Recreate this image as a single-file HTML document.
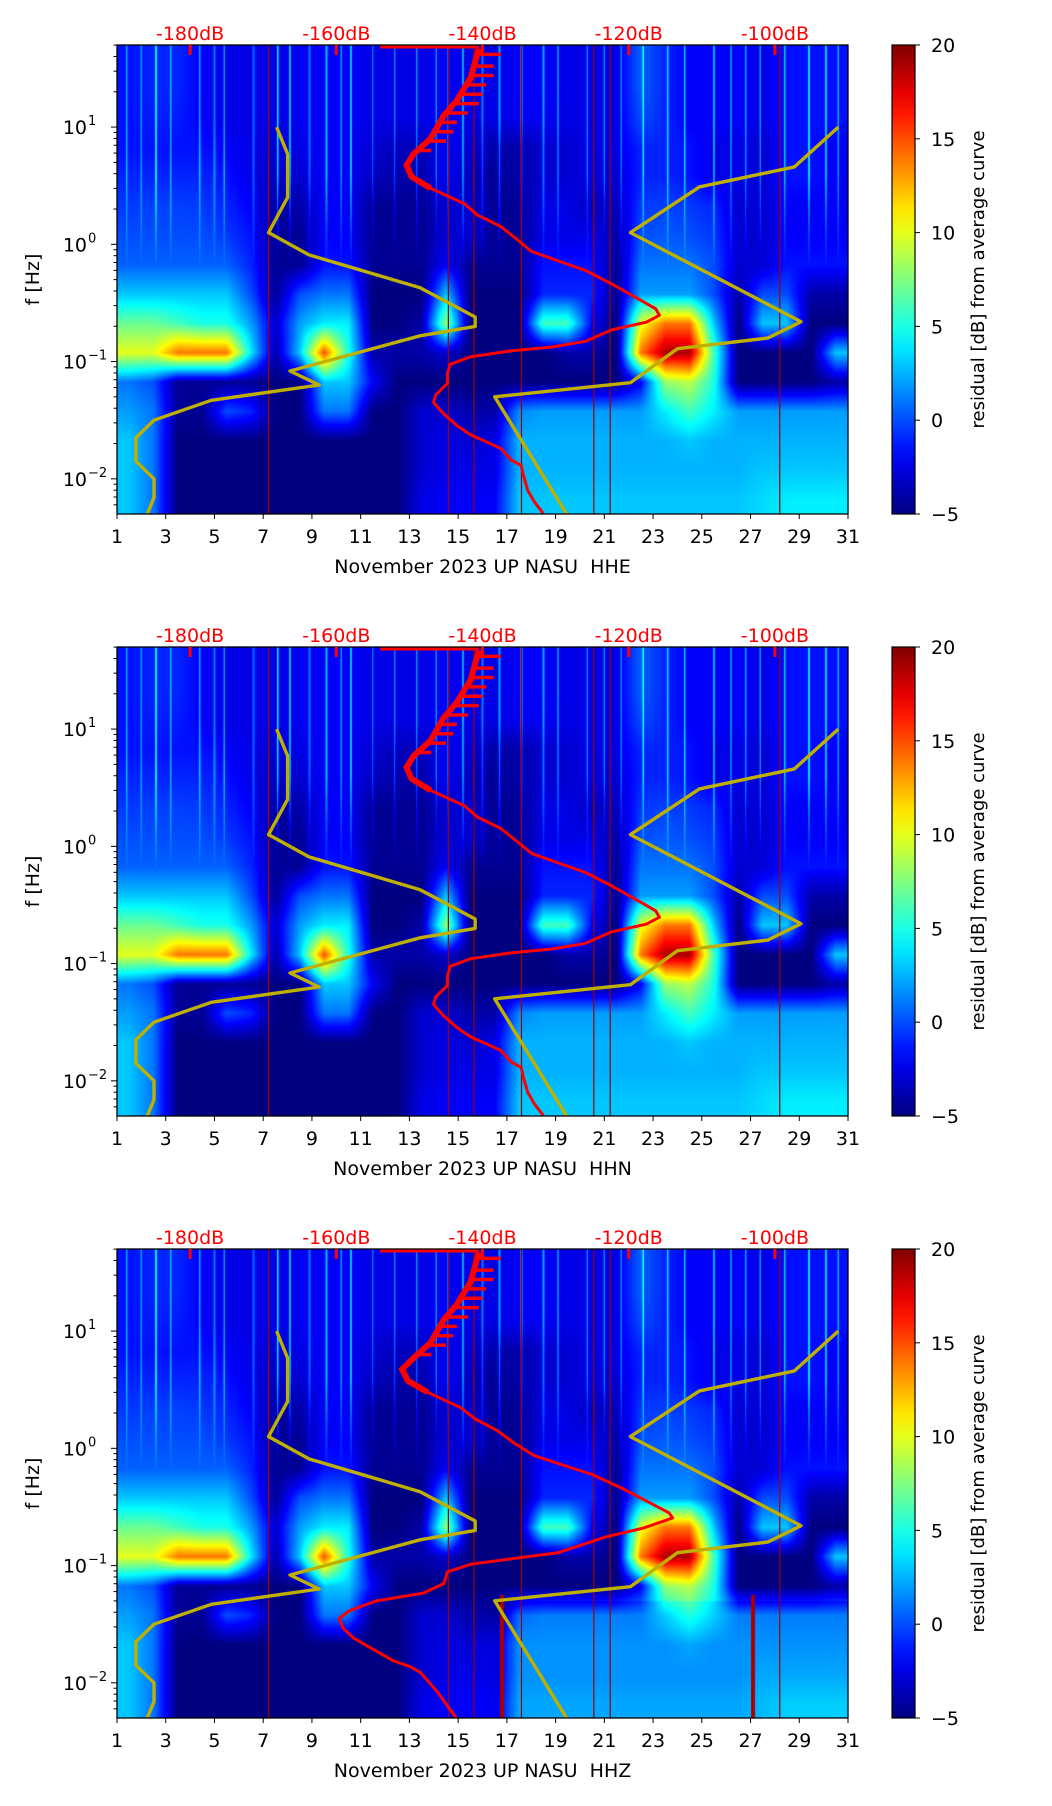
<!DOCTYPE html>
<html><head><meta charset="utf-8">
<style>
html,body{margin:0;padding:0;background:#fff;}
#root{position:relative;width:1052px;height:1806px;overflow:hidden;background:#fff;}
canvas{position:absolute;}
svg{position:absolute;left:0;top:0;}
text{font-family:"DejaVu Sans","Liberation Sans",sans-serif;}
</style></head>
<body>
<div id="root">
<svg id="svg" width="1052" height="1806"></svg>
</div>
<script>
// ---- data ----
const panelNames = ["HHE","HHN","HHZ"];
const xTicks = [1,3,5,7,9,11,13,15,17,19,21,23,25,27,29,31];
const yTickExp = [1,0,-1,-2];
const dbTicks = [-180,-160,-140,-120,-100];
const cbTicks = [20,15,10,5,0,-5];
// residual grid: 16 frequency bands (log10 f from 1.7 down to -2.3, 0.25 step) x 30 days
const gridRows = [
[-1.5,-1,-1,-2,-2.5,-2.5,-2.5,-2.2,-2,-2,-2.5,-2.5,-2.5,-2,-2.5,-2.5,-2,-2,-2.5,-2.5,-2.5,0.5,-1,-2,-2,-2,-2.5,-1.5,-1.5,-1.5],
[-1.5,-1,-1,-2,-2.5,-2.5,-2.5,-2.2,-2,-2,-2.5,-2.5,-2.5,-2,-2.5,-2.5,-2,-2,-2.5,-2.5,-2.5,0.5,-1,-2,-2,-2,-2.5,-1.5,-1.5,-1.5],
[-1.5,-1.2,-1.2,-2,-2.5,-2.5,-2.5,-2.2,-2,-2,-2.5,-2.5,-2.5,-2,-2.5,-2.5,-2.2,-2.2,-2.5,-2.5,-2.5,0,-1,-2,-2,-2,-2.5,-1.5,-1.5,-1.5],
[-1.5,-1.5,-1.5,-1.5,-2,-2.5,-3,-2.5,-2,-2,-3,-3.5,-3.5,-2,-3,-4,-4,-3,-3,-2.5,-2.5,-1,-1,-1.5,-2.5,-2.5,-3,-1.5,-1.5,-2],
[-1,-1,-1,-1,-1.5,-2.5,-3.5,-3,-2,-2,-3.5,-4,-4,-2,-3.5,-4.5,-4,-3,-3,-2.5,-3,-1,-1,-1.5,-2.5,-2.5,-3,-1.5,-1.5,-2],
[-0.5,-0.3,-0.3,-0.5,-1,-2,-4,-4,-2,-2,-4.5,-4.5,-4.5,-3,-3,-4.5,-4.5,-2.5,-2.5,-3.5,-3.5,-0.5,-0.3,-0.5,-1,-3,-3,-2,-2,-2],
[0,0,0,0,-0.5,-1.5,-4.5,-4.5,-2,-2,-4.5,-4.5,-4.5,-3,-3,-4.5,-4.5,-2.5,-2.5,-2.5,-4,0,0.3,0,-0.5,-3,-3,-2,-2,-2],
[0.5,0.5,0.5,0.5,0.5,-1,-4.5,-4.5,-1.5,-1.5,-4.5,-4.5,-4.5,-2,-4.5,-4.5,-4.5,-1.5,-1.5,-1.5,-4.5,1,1,1,0,-3,-3,-1.5,-1.5,-1.5],
[3,3,3,3,3,0,-4.5,0,1,1,-5,-5,-5,3,-5,-5,-5,-1,-1,-1,-4.5,2,2,2,0,-4,0,0,-4,-4],
[7,7,6,5,5,2,-3,2,4,4,-5,-5,-4,8,-5,-5,-5,6,6,-2,-5,10,14,14,3,-5,3,3,-5,-5],
[10,10,14,14,14,4,-4,3,15,5,-4,-4,-4,-3,-5,-5,-5,-5,-4,-4,-5,14,19,19,6,-5,-5,-5,-5,3],
[1,0,-4.5,-4.5,-4.5,-4.5,-5,-5,3,3,-2,-5,-5,-5,-5,-5,-5,-5,-5,-5,-5,-2,8,9,5,-5,-5,-5,-5,-4],
[2,1,-4.5,-4.5,0,-1,-5,-5,1,1,-5,-5,-3,-3,-4,-4,1.5,2,2,2,2,2,4,6,4,2,2,2,2,2],
[3,1,-5,-5,-5,-5,-5,-5,-5,-5,-5,-5,-3,-2.5,-3,-2.5,2.5,2.5,2.5,2.5,2.5,2.5,2.5,3,2.5,2.5,2.5,2.5,2.5,2.5],
[3,1,-5,-5,-5,-5,-5,-5,-5,-5,-5,-5,-3,-2.5,-2.5,-2.5,2.5,2.5,2.5,2.5,2.5,2.5,2.5,2.5,2.5,2.5,3,3,3,3],
[3,1,-5,-5,-5,-5,-5,-5,-5,-5,-5,-5,-2.5,-2,-2,-2,3,3,3,3,3,3,3,3,3,3,3.5,4,4,4]
];
const streakDays = [1.4,2.0,2.6,3.2,4.4,5.0,5.4,6.6,7.6,8.1,8.9,9.6,10.2,10.6,11.5,12.4,13.3,14.1,14.6,15.2,16.0,16.7,17.6,18.5,19.1,20.3,21.0,21.7,22.6,23.6,24.3,25.5,26.2,26.8,27.4,28.4,29.4,30.1,30.6];
const streakGain = [4,3.5,5,4,4.5,3.5,4.5,3.5,7,5,3.5,5,4,5,3.5,4,4.5,4,5,4.5,4,5,5,4.5,3.5,4,4,3.5,5,5,5,4.5,3.5,4.5,4.5,5,5,4.5,4];
const darkLineDays = [7.22,14.6,15.65,17.6,20.57,21.24,28.2];
const zRedStreakDays = [16.8,27.1];
// yellow reference curves (day, log10 f)
const yelLeftDay = [7.55,8.0,8.0,7.22,8.88,13.44,15.7,15.7,13.44,8.1,9.3,4.87,2.52,1.77,1.77,2.52,2.52,2.24];
const yelLeftLogF = [1.0,0.77,0.40,0.10,-0.09,-0.37,-0.62,-0.70,-0.78,-1.08,-1.20,-1.33,-1.50,-1.65,-1.85,-2.0,-2.16,-2.3];
const yelRightDay = [30.6,28.8,24.9,22.07,29.07,27.7,24.0,22.07,16.5,19.45];
const yelRightLogF = [1.0,0.66,0.49,0.10,-0.66,-0.80,-0.89,-1.18,-1.30,-2.30];
// average PSD curve (dB, log10 f)
const psdDbE = [-140.5,-141.6,-143.5,-145.3,-147.1,-149.4,-150.4,-149.7,-147.1,-142.5,-140.7,-137.5,-135.2,-133.3,-129.6,-125.9,-122.3,-118.6,-116.3,-115.8,-117.6,-122.3,-125.9,-130.5,-136.1,-141.6,-144.4,-144.8,-144.8,-146.4,-146.7,-145.3,-143.5,-141.6,-139.8,-137.5,-136.1,-134.7,-134.4,-133.8,-132.9,-131.7];
const psdLogFE = [1.669,1.424,1.228,1.098,0.902,0.772,0.674,0.576,0.478,0.347,0.250,0.152,0.038,-0.060,-0.142,-0.223,-0.338,-0.468,-0.550,-0.605,-0.664,-0.729,-0.827,-0.876,-0.909,-0.958,-1.023,-1.104,-1.186,-1.284,-1.349,-1.447,-1.545,-1.626,-1.675,-1.741,-1.838,-1.887,-1.969,-2.10,-2.197,-2.295];
const psdDbZ = [-140.5,-141.6,-143.5,-145.3,-147.1,-149.4,-151.0,-150.2,-147.5,-143.0,-141.0,-138.0,-135.5,-133.0,-129.0,-125.0,-121.0,-117.0,-114.5,-114.0,-118.0,-123.2,-129.6,-141.6,-144.8,-145.3,-148.1,-154.5,-158.2,-159.6,-159.1,-157.7,-155.9,-152.2,-149.9,-148.5,-146.2,-143.5];
const psdLogFZ = [1.669,1.424,1.228,1.098,0.902,0.772,0.674,0.576,0.478,0.347,0.250,0.152,0.038,-0.060,-0.142,-0.223,-0.338,-0.468,-0.550,-0.593,-0.680,-0.757,-0.889,-0.988,-1.054,-1.153,-1.235,-1.301,-1.384,-1.450,-1.532,-1.615,-1.681,-1.812,-1.862,-1.911,-2.076,-2.307];
const spikeLogF = [1.62,1.52,1.44,1.36,1.28,1.2,1.12,1.04,0.96,0.88,0.8];
const spikeDb = [-137.5,-138.5,-138.5,-139.5,-140,-140.5,-142,-143.5,-144,-145,-147];
const bottomOffset = [0,0,-0.8];

// ---- layout ----
const L=117, W=731, H=469, panelTops=[45,647,1249];
const LOGMAX=1.7, LOGMIN=-2.3;
const NS="http://www.w3.org/2000/svg";
const svg=document.getElementById('svg');
function el(tag,attrs,parent){const e=document.createElementNS(NS,tag);for(const k in attrs)e.setAttribute(k,attrs[k]);(parent||svg).appendChild(e);return e;}
function xDay(d){return L+(d-1)/30*W;}
function yLog(top,lf){return top+(LOGMAX-lf)/(LOGMAX-LOGMIN)*H;}
function dbToDay(db){return 4+(db+180)*6/20;}
function jet(t){t=Math.max(0,Math.min(1,t));const c=v=>Math.max(0,Math.min(1,v));return [c(1.5-Math.abs(4*t-3))*255,c(1.5-Math.abs(4*t-2))*255,c(1.5-Math.abs(4*t-1))*255];}
function gridVal(day,lf){
  let c=day-1.5, r=(LOGMAX-lf)/0.25-0.5;
  c=Math.max(0,Math.min(29,c)); r=Math.max(0,Math.min(15,r));
  const c0=Math.floor(c),r0=Math.floor(r),c1=Math.min(29,c0+1),r1=Math.min(15,r0+1),fc=c-c0,fr=r-r0;
  const a=gridRows[r0][c0]*(1-fc)+gridRows[r0][c1]*fc, b=gridRows[r1][c0]*(1-fc)+gridRows[r1][c1]*fc;
  return a*(1-fr)+b*fr;
}

panelNames.forEach((name,pi)=>{
  const top=panelTops[pi];
  const cv=document.createElement('canvas');
  cv.width=W;cv.height=H;cv.style.left=L+'px';cv.style.top=top+'px';
  
  
  document.getElementById('root').insertBefore(cv,svg);
  const ctx=cv.getContext('2d');const img=ctx.createImageData(W,H);
  for(let py=0;py<H;py++){
    const lf=LOGMAX-(py+0.5)/H*(LOGMAX-LOGMIN);
    for(let px=0;px<W;px++){
      const day=1+(px+0.5)/W*30;
      let v=gridVal(day,lf);
      if(lf<-1.3&&day>16.5) v+=bottomOffset[pi];
      if(lf>-0.2){
        const fade=Math.min(1,(lf+0.2)/0.8);
        for(let k=0;k<streakDays.length;k++){const dd=Math.abs(day-streakDays[k]);if(dd<0.045){v+=streakGain[k]*fade*(dd<0.025?1:0.5);break;}}
      }
      if(pi===2&&lf<-1.25){for(const s of zRedStreakDays){if(Math.abs(day-s)<0.1){v=19;}}}
      const col=jet((v+5)/25);const i=(py*W+px)*4;
      img.data[i]=col[0];img.data[i+1]=col[1];img.data[i+2]=col[2];img.data[i+3]=255;
    }
  }
  ctx.putImageData(img,0,0);

  const g=el('g',{});
  darkLineDays.forEach(d=>{
    const ln=el('line',{x1:xDay(d),x2:xDay(d),y1:top,y2:top+H,stroke:'#a00000','stroke-width':1.2},g);
    
    
  });
  const cp=el('clipPath',{id:'clip'+pi},g);
  el('rect',{x:L,y:top,width:W,height:H},cp);
  const cg=el('g',{'clip-path':'url(#clip'+pi+')'},g);
  [[yelLeftDay,yelLeftLogF,'left'],[yelRightDay,yelRightLogF,'right']].forEach(([ds,ls,side])=>{
    const pts=ds.map((d,i)=>xDay(d).toFixed(1)+','+yLog(top,ls[i]).toFixed(1)).join(' ');
    const pl=el('polyline',{points:pts,fill:'none',stroke:'#bfb000','stroke-width':3.4,'stroke-linejoin':'round'},cg);
    
    
  });
  const dbs=pi===2?psdDbZ:psdDbE, lfs=pi===2?psdLogFZ:psdLogFE;
  const top0=el('line',{x1:xDay(dbToDay(-154)),x2:xDay(dbToDay(-140.5)),y1:top+2,y2:top+2,stroke:'#ff0000','stroke-width':3},cg);
  
  
  spikeLogF.forEach((lf,i)=>{
    let bd=-150; for(let k=0;k<lfs.length-1;k++){if(lf<=lfs[k]&&lf>=lfs[k+1]){const t=(lfs[k]-lf)/(lfs[k]-lfs[k+1]);bd=dbs[k]+(dbs[k+1]-dbs[k])*t;}}
    const sp=el('line',{x1:xDay(dbToDay(bd)),x2:xDay(dbToDay(spikeDb[i])),y1:yLog(top,lf),y2:yLog(top,lf),stroke:'#ff0000','stroke-width':3.5},cg);
    
    
  });
  const rp=dbs.map((d,i)=>xDay(dbToDay(d)).toFixed(1)+','+yLog(top,lfs[i]).toFixed(1)).join(' ');
  const rl=el('polyline',{points:rp,fill:'none',stroke:'#ff0000','stroke-width':3,'stroke-linejoin':'round'},cg);
  
  
  const rp2=dbs.slice(0,9).map((d,i)=>xDay(dbToDay(d)).toFixed(1)+','+yLog(top,lfs[i]).toFixed(1)).join(' ');
  el('polyline',{points:rp2,fill:'none',stroke:'#ff0000','stroke-width':6},cg);
  const fr=el('rect',{x:L,y:top,width:W,height:H,fill:'none',stroke:'#000','stroke-width':1.3},g);
  
  
  xTicks.forEach(t=>{
    const x=xDay(t);
    el('line',{x1:x,x2:x,y1:top+H,y2:top+H+5,stroke:'#000','stroke-width':1},g);
    const tx=el('text',{x:x,y:top+H+29,'text-anchor':'middle','font-size':19,fill:'#000'},g);
    tx.textContent=t;
    
    
  });
  const xl=el('text',{x:L+W/2,y:top+H+59,'text-anchor':'middle','font-size':19,fill:'#000'},g);
  xl.textContent='November 2023 UP NASU\u00a0\u00a0'+name;
  
  
  for(let e=-3;e<=1;e++){
    for(let m=1;m<10;m++){
      const lf=e+Math.log10(m); if(lf>LOGMAX||lf<LOGMIN)continue;
      const y=yLog(top,lf);
      el('line',{x1:L,x2:L-(m===1?6:3.5),y1:y,y2:y,stroke:'#000','stroke-width':1},g);
    }
  }
  yTickExp.forEach(e=>{
    const y=yLog(top,e);
    const tx=el('text',{x:L-30,y:y+7,'text-anchor':'end','font-size':19,fill:'#000'},g);
    tx.textContent='10';
    
    
    const sp=el('text',{x:L-29,y:y-2,'text-anchor':'start','font-size':13,fill:'#000'},g);
    sp.textContent=e<0?('\u2212'+(-e)):String(e);
  });
  const yl=el('text',{x:0,y:0,'text-anchor':'middle','font-size':19,fill:'#000',transform:'translate(39,'+(top+H/2)+') rotate(-90)'},g);
  yl.textContent='f [Hz]';
  
  
  dbTicks.forEach(db=>{
    const x=xDay(dbToDay(db));
    el('line',{x1:x,x2:x,y1:top,y2:top+10,stroke:'#ff0000','stroke-width':3},g);
    const tx=el('text',{x:x,y:top-5,'text-anchor':'middle','font-size':19,fill:'#ff0000'},g);
    tx.textContent=db+'dB';
    
    
  });
  const cbx=892,cbw=23;
  const gid='cbg'+pi;
  const lg=el('linearGradient',{id:gid,x1:0,y1:1,x2:0,y2:0},g);
  for(let k=0;k<=20;k++){const c=jet(k/20);el('stop',{offset:k/20,'stop-color':'rgb('+c.map(Math.round).join(',')+')'},lg);}
  const cb=el('rect',{x:cbx,y:top,width:cbw,height:H,fill:'url(#'+gid+')',stroke:'#000','stroke-width':1.2},g);
  
  
  cbTicks.forEach(v=>{
    const y=top+(20-v)/25*H;
    el('line',{x1:cbx+cbw,x2:cbx+cbw+5,y1:y,y2:y,stroke:'#000','stroke-width':1},g);
    const tx=el('text',{x:cbx+cbw+16,y:y+7,'text-anchor':'start','font-size':19,fill:'#000'},g);
    tx.textContent=v<0?'\u2212'+(-v):String(v);
    
    
  });
  const cl=el('text',{x:0,y:0,'text-anchor':'middle','font-size':18,fill:'#000',transform:'translate(984,'+(top+H/2)+') rotate(-90)'},g);
  cl.textContent='residual [dB] from average curve';
  
  
});
</script>
</body></html>
